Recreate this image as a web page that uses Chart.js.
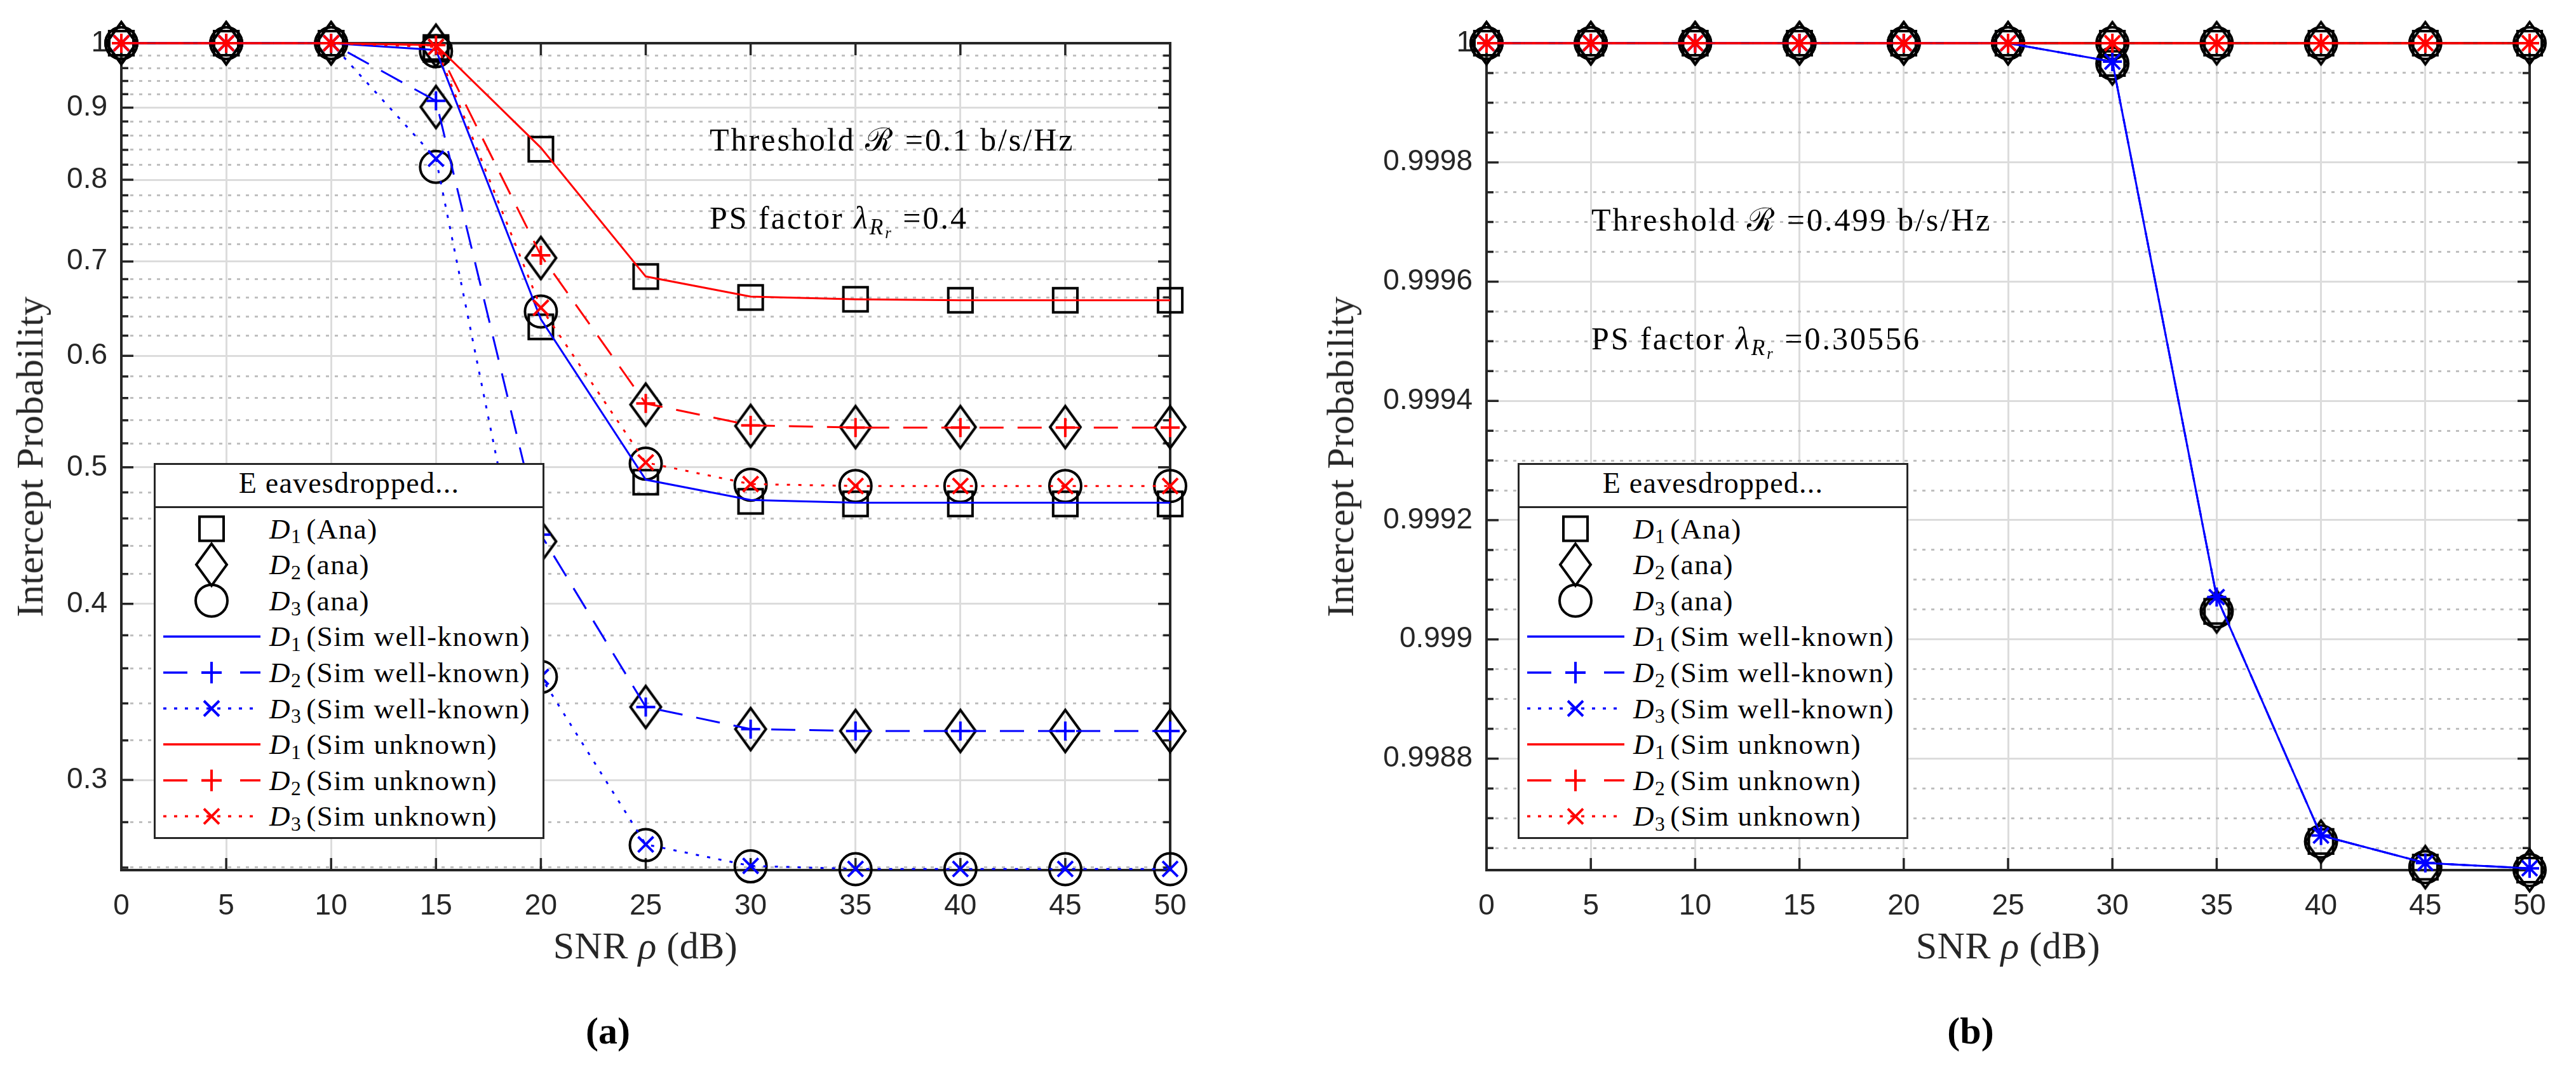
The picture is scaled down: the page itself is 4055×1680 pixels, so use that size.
<!DOCTYPE html>
<html>
<head>
<meta charset="utf-8">
<title>Intercept Probability vs SNR</title>
<script src="https://cdn.jsdelivr.net/npm/chart.js@4.4.1/dist/chart.umd.min.js"></script>
<style>
  html, body { margin:0; padding:0; background:#fff; }
  #wrap { position:relative; width:4055px; height:1680px; overflow:hidden; background:#fff; }
  #wrap canvas { position:absolute; top:0; }
  .tx { position:absolute; font-family:"Liberation Serif","DejaVu Serif",serif; color:#000; white-space:nowrap; line-height:1; }
  .axt { font-size:60px; color:#262626; letter-spacing:0.5px; }
  .ann { font-size:50px; letter-spacing:3px; }
  .cap { font-size:60px; font-weight:bold; }
  .lg { position:absolute; box-sizing:border-box; border:3px solid #262626; background:#fff; width:615px; height:592px; font-family:"Liberation Serif","DejaVu Serif",serif; color:#000; }
  .lg .ttl { position:absolute; left:0; right:0; top:0; height:58px; line-height:58px; text-align:center; font-size:46px; letter-spacing:1.2px; }
  .lg .sep { position:absolute; left:0; right:0; top:65px; height:3px; background:#262626; }
  .lg .row { position:absolute; left:179px; height:50px; line-height:50px; font-size:45px; white-space:nowrap; letter-spacing:1.5px; }
  .lg svg { position:absolute; left:0; top:0; }
  sub { font-size:0.7em; vertical-align:-0.25em; line-height:0; }
  .lg sub { margin-right:0.22em; }
</style>
</head>
<body>
<div id="wrap">
  <canvas id="cA" width="1900" height="1680" style="left:0px;width:1900px;height:1680px"></canvas>
  <canvas id="cB" width="2005" height="1680" style="left:2050px;width:2005px;height:1680px"></canvas>

  <div class="tx axt" style="left:47px;top:719px;transform:translate(-50%,-50%) rotate(-90deg)">Intercept Probability</div>
  <div class="tx axt" style="left:2110px;top:719px;transform:translate(-50%,-50%) rotate(-90deg)">Intercept Probability</div>
  <div class="tx axt" style="left:1016px;top:1459px;transform:translateX(-50%)">SNR <i>ρ</i> (dB)</div>
  <div class="tx axt" style="left:3161px;top:1459px;transform:translateX(-50%)">SNR <i>ρ</i> (dB)</div>
  <div class="tx cap" style="left:957px;top:1593px;transform:translateX(-50%)">(a)</div>
  <div class="tx cap" style="left:3102px;top:1593px;transform:translateX(-50%)">(b)</div>

  <div class="tx ann" style="left:1117px;top:195px">Threshold ℛ =0.1 b/s/Hz</div>
  <div class="tx ann" style="left:1117px;top:318px">PS factor <i>λ</i><sub><i>R</i><sub><i>r</i></sub></sub> =0.4</div>
  <div class="tx ann" style="left:2505px;top:321px">Threshold ℛ =0.499 b/s/Hz</div>
  <div class="tx ann" style="left:2505px;top:508px">PS factor <i>λ</i><sub><i>R</i><sub><i>r</i></sub></sub> =0.30556</div>

  <div class="lg" id="lgA" style="left:242px;top:729px"></div>
  <div class="lg" id="lgB" style="left:2389px;top:729px"></div>
</div>
<script>
// ---------------- data ----------------
const snr = [0, 5, 10, 15, 20, 25, 30, 35, 40, 45, 50];

// (a) Threshold R = 0.1, lambda = 0.4  (log y axis)
const aD1AnaKnown   = [1, 1, 1, 0.990, 0.629, 0.488, 0.473, 0.471, 0.471, 0.471, 0.471];
const aD2AnaKnown   = [1, 1, 1, 0.901, 0.443, 0.338, 0.326, 0.325, 0.325, 0.325, 0.325];
const aD3AnaKnown   = [1, 1, 1, 0.817, 0.355, 0.2697, 0.2605, 0.2593, 0.2593, 0.2593, 0.2593];
const aD1AnaUnknown = [1, 1, 1, 0.993, 0.841, 0.683, 0.660, 0.658, 0.657, 0.657, 0.657];
const aD2AnaUnknown = [1, 1, 1, 0.996, 0.704, 0.554, 0.535, 0.534, 0.534, 0.534, 0.534];
const aD3AnaUnknown = [1, 1, 1, 0.987, 0.645, 0.503, 0.486, 0.485, 0.485, 0.485, 0.485];
const aD1SimKnown   = [1, 1, 1, 0.989, 0.637, 0.490, 0.474, 0.472, 0.472, 0.472, 0.472];
const aD2SimKnown   = [1, 1, 1, 0.910, 0.448, 0.338, 0.326, 0.325, 0.325, 0.325, 0.325];
const aD3SimKnown   = [1, 1, 1, 0.828, 0.355, 0.270, 0.2607, 0.2594, 0.2594, 0.2594, 0.2594];
const aD1SimUnknown = [1, 1, 1, 0.997, 0.843, 0.683, 0.661, 0.658, 0.657, 0.657, 0.657];
const aD2SimUnknown = [1, 1, 1, 0.997, 0.707, 0.555, 0.5355, 0.5336, 0.5336, 0.5336, 0.5336];
const aD3SimUnknown = [1, 1, 1, 0.994, 0.649, 0.504, 0.4865, 0.485, 0.485, 0.485, 0.485];

// (b) Threshold R = 0.499, lambda = 0.30556  (linear y axis)
const bD1AnaKnown   = [1, 1, 1, 1, 1, 1, 0.999966, 0.999047, 0.998661, 0.998618, 0.998613];
const bD2AnaKnown   = [1, 1, 1, 1, 1, 1, 0.999966, 0.999047, 0.998661, 0.998618, 0.998613];
const bD3AnaKnown   = [1, 1, 1, 1, 1, 1, 0.999966, 0.999047, 0.998661, 0.998618, 0.998613];
const bD1AnaUnknown = [1, 1, 1, 1, 1, 1, 1, 1, 1, 1, 1];
const bD2AnaUnknown = [1, 1, 1, 1, 1, 1, 1, 1, 1, 1, 1];
const bD3AnaUnknown = [1, 1, 1, 1, 1, 1, 1, 1, 1, 1, 1];
const bD1SimKnown   = [1, 1, 1, 1, 1, 1, 0.999969, 0.999071, 0.998671, 0.998625, 0.998616];
const bD2SimKnown   = [1, 1, 1, 1, 1, 1, 0.999969, 0.999071, 0.998671, 0.998625, 0.998616];
const bD3SimKnown   = [1, 1, 1, 1, 1, 1, 0.999969, 0.999071, 0.998671, 0.998625, 0.998616];
const bD1SimUnknown = [1, 1, 1, 1, 1, 1, 1, 1, 1, 1, 1];
const bD2SimUnknown = [1, 1, 1, 1, 1, 1, 1, 1, 1, 1, 1];
const bD3SimUnknown = [1, 1, 1, 1, 1, 1, 1, 1, 1, 1, 1];

// ticks
const xTicks = [0, 5, 10, 15, 20, 25, 30, 35, 40, 45, 50];
const aYMajor = [0.3, 0.4, 0.5, 0.6, 0.7, 0.8, 0.9, 1];
const aYMajorLabels = ['0.3', '0.4', '0.5', '0.6', '0.7', '0.8', '0.9', '1'];
const aYRange = [0.2589, 1];
const bYMajor = [0.9988, 0.999, 0.9992, 0.9994, 0.9996, 0.9998, 1];
const bYMajorLabels = ['0.9988', '0.999', '0.9992', '0.9994', '0.9996', '0.9998', '1'];
const bYRange = [0.998613, 1];

const legendLabels = [
  ['1', '(Ana)'], ['2', '(ana)'], ['3', '(ana)'],
  ['1', '(Sim well-known)'], ['2', '(Sim well-known)'], ['3', '(Sim well-known)'],
  ['1', '(Sim unknown)'], ['2', '(Sim unknown)'], ['3', '(Sim unknown)']
];

// ---------------- styling helpers ----------------
const BLUE = '#0000ff', RED = '#ff0000', BLACK = '#000000';

// minor-tick lists (grid positions)
const aYTicks = [];
for (let k = 13; k <= 50; k++) aYTicks.push({ v: k / 50, m: aYMajor.some(t => Math.abs(t - k / 50) < 1e-9) });
const bYTicks = [];
for (let j = 27; j >= 0; j--) { const v = 1 - j * 0.00005; bYTicks.push({ v, m: bYMajor.some(t => Math.abs(t - v) < 1e-9) }); }

function diamondImg(w, h, lw) {
  const c = document.createElement('canvas');
  c.width = Math.ceil(w + lw * 2); c.height = Math.ceil(h + lw * 2);
  const g = c.getContext('2d');
  const cx = c.width / 2, cy = c.height / 2;
  g.strokeStyle = BLACK; g.lineWidth = lw; g.lineJoin = 'miter';
  g.beginPath();
  g.moveTo(cx, cy - h / 2); g.lineTo(cx + w / 2, cy); g.lineTo(cx, cy + h / 2); g.lineTo(cx - w / 2, cy);
  g.closePath(); g.stroke();
  return c;
}
const DIA = diamondImg(48, 66, 4);

function pts(arr) { return snr.map((x, i) => ({ x: x, y: arr[i] })); }
function ana(arr, kind) {
  const d = { data: pts(arr), showLine: false, borderColor: BLACK, backgroundColor: 'rgba(0,0,0,0)',
    pointBorderColor: BLACK, pointBackgroundColor: 'rgba(0,0,0,0)', pointBorderWidth: 4, clip: false, order: 3 };
  if (kind === 'sq') Object.assign(d, { pointStyle: 'rect', pointRadius: 27 });
  if (kind === 'di') Object.assign(d, { pointStyle: DIA, pointRadius: 30 });
  if (kind === 'ci') Object.assign(d, { pointStyle: 'circle', pointRadius: 25 });
  return d;
}
function sim(arr, color, kind, order) {
  const d = { data: pts(arr), showLine: true, borderColor: color, borderWidth: 3, fill: false, tension: 0,
    backgroundColor: color, pointBorderColor: color, pointBackgroundColor: color, pointBorderWidth: 4, clip: false, order: order };
  if (kind === 'solid') Object.assign(d, { pointRadius: 0 });
  if (kind === 'dash') Object.assign(d, { borderDash: [38, 22], pointStyle: 'cross', pointRadius: 15 });
  if (kind === 'dot') Object.assign(d, { borderDash: [5, 13], pointStyle: 'crossRot', pointRadius: 17 });
  return d;
}

const boxPlugin = {
  id: 'matlabBox',
  beforeDatasetsDraw(chart) {
    const { ctx, chartArea: a } = chart;
    const xs = chart.scales.x, ys = chart.scales.y;
    ctx.save();
    ctx.strokeStyle = '#262626'; ctx.lineWidth = 3.5; ctx.setLineDash([]);
    ctx.beginPath();
    xs.ticks.forEach(t => {
      const px = xs.getPixelForValue(t.value);
      ctx.moveTo(px, a.bottom); ctx.lineTo(px, a.bottom - 19);
      ctx.moveTo(px, a.top); ctx.lineTo(px, a.top + 19);
    });
    ys.ticks.forEach(t => {
      const py = ys.getPixelForValue(t.value);
      const L = t.major ? 19 : 11;
      ctx.moveTo(a.left, py); ctx.lineTo(a.left + L, py);
      ctx.moveTo(a.right, py); ctx.lineTo(a.right - L, py);
    });
    ctx.stroke();
    ctx.lineWidth = 4;
    ctx.strokeRect(a.left, a.top, a.right - a.left, a.bottom - a.top);
    ctx.restore();
  }
};

const tickFont = { family: '"Liberation Sans", Arial, Helvetica, sans-serif', size: 46 };

function makeChart(canvasId, datasets, yType, yRange, yTicks, yMajor, yLabels, yWidth, padRight) {
  return new Chart(document.getElementById(canvasId), {
    type: 'line',
    data: { datasets: datasets },
    plugins: [boxPlugin],
    options: {
      responsive: false, animation: false, devicePixelRatio: 1, events: [],
      layout: { padding: { top: 68, right: padRight, bottom: 0, left: 0 } },
      plugins: { legend: { display: false }, tooltip: { enabled: false } },
      scales: {
        x: {
          type: 'linear', min: 0, max: 50, bounds: 'data',
          afterBuildTicks: s => { s.ticks = xTicks.map(v => ({ value: v, major: true })); },
          ticks: { autoSkip: false, maxRotation: 0, padding: 30, color: '#262626', font: tickFont,
                   callback: v => String(v) },
          grid: { color: '#dcdcdc', lineWidth: 3, drawTicks: false },
          border: { display: false },
          afterFit: s => { s.height = 310; s.paddingLeft = 0; s.paddingRight = 0; }
        },
        y: {
          type: yType, min: yRange[0], max: yRange[1], bounds: 'data',
          afterBuildTicks: s => { s.ticks = yTicks.map(t => ({ value: t.v, major: t.m })); },
          ticks: { autoSkip: false, padding: 22, color: '#262626', font: tickFont,
                   callback: v => { const i = yMajor.findIndex(m => Math.abs(m - v) < 1e-9); return i >= 0 ? yLabels[i] : ''; } },
          grid: { color: c => (c.tick && c.tick.major) ? '#dcdcdc' : '#bfbfbf', lineWidth: 3, drawTicks: false },
          border: { display: false, dash: c => (c.tick && !c.tick.major) ? [5, 9] : [] },
          afterFit: s => { s.width = yWidth; s.paddingTop = 0; s.paddingBottom = 0; }
        }
      }
    }
  });
}

const dsA = [
  ana(aD1AnaKnown, 'sq'), ana(aD1AnaUnknown, 'sq'),
  ana(aD2AnaKnown, 'di'), ana(aD2AnaUnknown, 'di'),
  ana(aD3AnaKnown, 'ci'), ana(aD3AnaUnknown, 'ci'),
  sim(aD1SimKnown, BLUE, 'solid', 2), sim(aD2SimKnown, BLUE, 'dash', 2), sim(aD3SimKnown, BLUE, 'dot', 2),
  sim(aD1SimUnknown, RED, 'solid', 1), sim(aD2SimUnknown, RED, 'dash', 1), sim(aD3SimUnknown, RED, 'dot', 1)
];
const dsB = [
  ana(bD1AnaKnown, 'sq'), ana(bD1AnaUnknown, 'sq'),
  ana(bD2AnaKnown, 'di'), ana(bD2AnaUnknown, 'di'),
  ana(bD3AnaKnown, 'ci'), ana(bD3AnaUnknown, 'ci'),
  sim(bD2SimKnown, BLUE, 'dash', 2), sim(bD3SimKnown, BLUE, 'dot', 2), sim(bD1SimKnown, BLUE, 'solid', 2),
  sim(bD2SimUnknown, RED, 'dash', 1), sim(bD3SimUnknown, RED, 'dot', 1), sim(bD1SimUnknown, RED, 'solid', 1)
];

makeChart('cA', dsA, 'logarithmic', aYRange, aYTicks, aYMajor, aYMajorLabels, 191, 58);
makeChart('cB', dsB, 'linear', bYRange, bYTicks, bYMajor, bYMajorLabels, 290, 73);

// ---------------- legends ----------------
function buildLegend(el) {
  const cy = i => 100.5 + i * 56.6;
  const mx = 88, x1 = 12, x2 = 165;
  let s = '<svg width="609" height="586" xmlns="http://www.w3.org/2000/svg">';
  s += `<rect x="${mx - 19}" y="${cy(0) - 19}" width="38" height="38" fill="none" stroke="#000" stroke-width="4"/>`;
  s += `<path d="M${mx} ${cy(1) - 33} L${mx + 24} ${cy(1)} L${mx} ${cy(1) + 33} L${mx - 24} ${cy(1)} Z" fill="none" stroke="#000" stroke-width="4"/>`;
  s += `<circle cx="${mx}" cy="${cy(2)}" r="25" fill="none" stroke="#000" stroke-width="4"/>`;
  const colors = [BLUE, BLUE, BLUE, RED, RED, RED];
  const kinds = ['solid', 'dash', 'dot', 'solid', 'dash', 'dot'];
  for (let k = 0; k < 6; k++) {
    const y = cy(3 + k), c = colors[k];
    if (kinds[k] === 'solid') {
      s += `<line x1="${x1}" y1="${y}" x2="${x2}" y2="${y}" stroke="${c}" stroke-width="3.5"/>`;
    } else if (kinds[k] === 'dash') {
      s += `<line x1="${x1}" y1="${y}" x2="${x1 + 38}" y2="${y}" stroke="${c}" stroke-width="3.5"/>`;
      s += `<line x1="${x2 - 32}" y1="${y}" x2="${x2}" y2="${y}" stroke="${c}" stroke-width="3.5"/>`;
      s += `<path d="M${mx - 16} ${y} H${mx + 16} M${mx} ${y - 17} V${y + 17}" stroke="${c}" stroke-width="4"/>`;
    } else {
      s += `<line x1="${x1}" y1="${y}" x2="${x2}" y2="${y}" stroke="${c}" stroke-width="3.5" stroke-dasharray="5 12"/>`;
      s += `<path d="M${mx - 12} ${y - 12} L${mx + 12} ${y + 12} M${mx - 12} ${y + 12} L${mx + 12} ${y - 12}" stroke="${c}" stroke-width="4"/>`;
    }
  }
  s += '</svg>';
  let h = s + '<div class="ttl">E eavesdropped...</div><div class="sep"></div>';
  legendLabels.forEach((lab, i) => {
    h += `<div class="row" style="top:${(cy(i) - 25).toFixed(1)}px"><i>D</i><sub>${lab[0]}</sub>${lab[1]}</div>`;
  });
  el.innerHTML = h;
}
buildLegend(document.getElementById('lgA'));
buildLegend(document.getElementById('lgB'));
</script>
</body>
</html>
